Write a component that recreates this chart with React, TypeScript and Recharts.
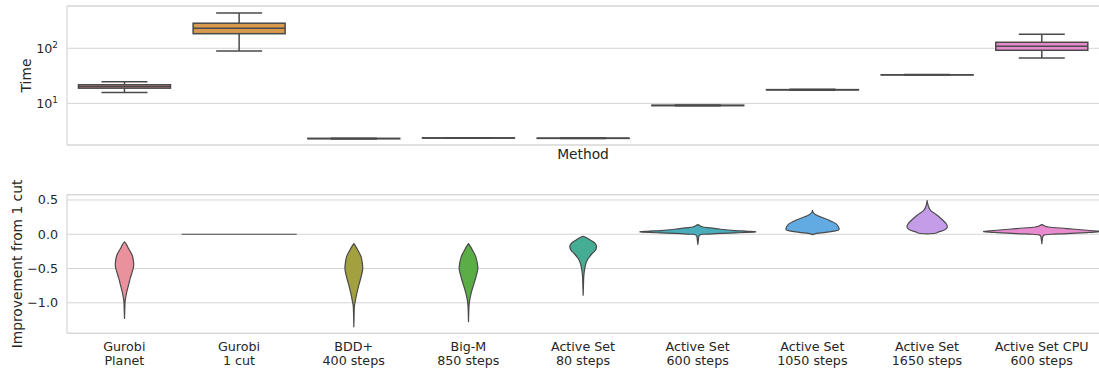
import React from 'react';
import { ComposedChart, Bar, XAxis, YAxis, CartesianGrid, ReferenceLine, Label } from 'recharts';

// methods (two-line tick labels)
const methodNames = ['Gurobi', 'Gurobi', 'BDD+', 'Big-M', 'Active Set', 'Active Set', 'Active Set', 'Active Set', 'Active Set CPU'];
const methodSteps = ['Planet', '1 cut', '400 steps', '850 steps', '80 steps', '600 steps', '1050 steps', '1650 steps', '600 steps'];

// Time (seconds, log scale) - box plot statistics
const timeMin = [15.8, 89, 2.27, 2.33, 2.3, 9.05, 17.4, 32.6, 66.7];
const timeQ1 = [18.9, 184, 2.29, 2.35, 2.32, 9.15, 17.6, 32.9, 92];
const timeMed = [20.2, 231, 2.3, 2.36, 2.33, 9.2, 17.7, 33.0, 108.7];
const timeQ3 = [21.8, 285, 2.31, 2.37, 2.34, 9.25, 17.8, 33.1, 128.5];
const timeMax = [24.7, 438, 2.33, 2.39, 2.36, 9.35, 18.0, 33.4, 180];

// Improvement from 1 cut - violin outlines as [value, relative density]
const kdePlanet = [[-0.112, 0], [-0.15, 0.035], [-0.208, 0.07], [-0.306, 0.134], [-0.403, 0.157], [-0.476, 0.157], [-0.549, 0.134], [-0.645, 0.099], [-0.742, 0.07], [-0.84, 0.04], [-0.913, 0.023], [-0.985, 0.01], [-1.1, 0.005], [-1.227, 0]];
const kdeOneCut = [[0, 1]];
const kdeBdd = [[-0.136, 0], [-0.18, 0.035], [-0.233, 0.07], [-0.33, 0.127], [-0.451, 0.152], [-0.524, 0.152], [-0.62, 0.127], [-0.742, 0.087], [-0.864, 0.052], [-0.985, 0.023], [-1.058, 0.009], [-1.2, 0.004], [-1.35, 0]];
const kdeBigM = [[-0.136, 0], [-0.18, 0.035], [-0.233, 0.07], [-0.33, 0.127], [-0.476, 0.162], [-0.549, 0.152], [-0.645, 0.122], [-0.742, 0.087], [-0.84, 0.052], [-0.936, 0.026], [-1.03, 0.01], [-1.15, 0.004], [-1.276, 0]];
const kdeAs80 = [[-0.029, 0], [-0.05, 0.06], [-0.087, 0.127], [-0.12, 0.19], [-0.16, 0.227], [-0.208, 0.227], [-0.245, 0.2], [-0.281, 0.157], [-0.354, 0.087], [-0.427, 0.047], [-0.524, 0.023], [-0.62, 0.01], [-0.75, 0.005], [-0.888, 0]];
const kdeAs600 = [[0.141, 0], [0.12, 0.044], [0.106, 0.087], [0.092, 0.227], [0.073, 0.4], [0.054, 0.645], [0.044, 0.87], [0.034, 1.0], [0.019, 0.645], [0.008, 0.3], [0.0, 0.1], [-0.01, 0.035], [-0.04, 0.015], [-0.1, 0.007], [-0.15, 0]];
const kdeAs1050 = [[0.349, 0], [0.32, 0.01], [0.301, 0.03], [0.27, 0.09], [0.252, 0.145], [0.204, 0.29], [0.155, 0.406], [0.106, 0.453], [0.068, 0.46], [0.05, 0.4], [0.034, 0.29], [0.02, 0.14], [0.01, 0.05], [-0.005, 0]];
const kdeAs1650 = [[0.49, 0], [0.422, 0.017], [0.349, 0.058], [0.277, 0.174], [0.204, 0.274], [0.146, 0.337], [0.097, 0.349], [0.058, 0.291], [0.034, 0.2], [0.015, 0.14], [0.005, 0]];
const kdeCpu = [[0.141, 0], [0.12, 0.05], [0.106, 0.116], [0.083, 0.436], [0.058, 0.785], [0.044, 1.0], [0.035, 0.97], [0.025, 0.785], [0.01, 0.436], [0.0, 0.174], [-0.01, 0.05], [-0.03, 0.02], [-0.08, 0.008], [-0.136, 0]];
const improvementKde = [kdePlanet, kdeOneCut, kdeBdd, kdeBigM, kdeAs80, kdeAs600, kdeAs1050, kdeAs1650, kdeCpu];

const timeTicks = [10, 100];
const timeDomain = [1.76, 585];
const gainTicks = [-1, -0.5, 0, 0.5];
const gainDomain = [-1.445, 0.577];

const COLORS = ['#ea919e', '#d89a4c', '#a3a03f', '#5aae45', '#46ad95', '#49adbb', '#61abe2', '#c49ce8', '#e88bcf'];
const GRID = '#d5d5d5';
const TEXT = '#262626';
const EDGE = '#4a4a4a';
const FONT = '"DejaVu Sans", sans-serif';
const TICK_SIZE = 12.7;
const LABEL_SIZE = 13.8;

const timeRows = methodNames.map((n, i) => ({
  method: `${n}\n${methodSteps[i]}`,
  min: timeMin[i], q1: timeQ1[i], med: timeMed[i], q3: timeQ3[i], max: timeMax[i],
  color: COLORS[i],
}));

const gainRows = methodNames.map((n, i) => {
  const kde = improvementKde[i];
  const vals = kde.map((p) => p[0]);
  return { method: `${n}\n${methodSteps[i]}`, lo: Math.min(...vals), hi: Math.max(...vals), kde, color: COLORS[i] };
});

const BoxShape = (props: any) => {
  const { x, y, width, height, payload } = props;
  const top = height < 0 ? y + height : y;
  const h = Math.abs(height);
  const lmax = Math.log10(payload.max);
  const lmin = Math.log10(payload.min);
  const py = (v: number) => top + (h * (lmax - Math.log10(v))) / (lmax - lmin);
  const cx = x + width / 2;
  const cap = width / 4;
  return (
    <g>
      <line x1={cx} x2={cx} y1={py(payload.max)} y2={py(payload.q3)} stroke={EDGE} strokeWidth={1.5} />
      <line x1={cx} x2={cx} y1={py(payload.q1)} y2={py(payload.min)} stroke={EDGE} strokeWidth={1.5} />
      <line x1={cx - cap} x2={cx + cap} y1={py(payload.max)} y2={py(payload.max)} stroke={EDGE} strokeWidth={1.5} />
      <line x1={cx - cap} x2={cx + cap} y1={py(payload.min)} y2={py(payload.min)} stroke={EDGE} strokeWidth={1.5} />
      <rect x={x} y={py(payload.q3)} width={width} height={py(payload.q1) - py(payload.q3)} fill={payload.color} stroke={EDGE} strokeWidth={1.5} />
      <line x1={x} x2={x + width} y1={py(payload.med)} y2={py(payload.med)} stroke={EDGE} strokeWidth={1.5} />
    </g>
  );
};

// smooth closed outline, pointed at the tips
const outlinePath = (pts: number[][], tips: number[]) => {
  const n = pts.length;
  const tan = pts.map((p, i) => {
    if (tips.includes(i)) return [0, 0];
    const a = pts[(i - 1 + n) % n];
    const b = pts[(i + 1) % n];
    return [(b[0] - a[0]) / 2, (b[1] - a[1]) / 2];
  });
  let d = `M${pts[0][0]},${pts[0][1]}`;
  for (let i = 0; i < n; i++) {
    const j = (i + 1) % n;
    const p = pts[i];
    const q = pts[j];
    d += `C${p[0] + tan[i][0] / 3},${p[1] + tan[i][1] / 3} ${q[0] - tan[j][0] / 3},${q[1] - tan[j][1] / 3} ${q[0]},${q[1]}`;
  }
  return d + 'Z';
};

const ViolinShape = (props: any) => {
  const { x, y, width, height, payload } = props;
  const top = height < 0 ? y + height : y;
  const h = Math.abs(height);
  if (!(payload.hi > payload.lo)) {
    return <line x1={x} x2={x + width} y1={top} y2={top} stroke={EDGE} strokeWidth={1.2} />;
  }
  const cx = x + width / 2;
  const half = width / 2;
  const py = (v: number) => top + (h * (payload.hi - v)) / (payload.hi - payload.lo);
  const kde: number[][] = payload.kde;
  const right = kde.map(([v, d]) => [cx + d * half, py(v)]);
  const left = kde.slice(1, -1).reverse().map(([v, d]) => [cx - d * half, py(v)]);
  const pts = [...right, ...left];
  return <path d={outlinePath(pts, [0, right.length - 1])} fill={payload.color} stroke={EDGE} strokeWidth={1.2} strokeLinejoin="round" />;
};

const PowTick = ({ x, y, payload }: any) => {
  const exp = Math.round(Math.log10(payload.value));
  return (
    <text x={x} y={y} textAnchor="end" fill={TEXT} fontSize={TICK_SIZE} fontFamily={FONT}>
      <tspan dy={5}>10</tspan>
      <tspan dy={-5} fontSize={8.9}>{exp}</tspan>
    </text>
  );
};

const MethodTick = ({ x, y, payload }: any) => {
  const [a, b] = String(payload.value).split('\n');
  return (
    <text x={x} y={y} textAnchor="middle" fill={TEXT} fontSize={TICK_SIZE} fontFamily={FONT}>
      <tspan x={x} dy={17.4}>{a}</tspan>
      <tspan x={x} dy={14.3}>{b}</tspan>
    </text>
  );
};

const yTitle = (title: string, baseX: number) => (props: any) => {
  const vb = props.viewBox || {};
  const cy = (vb.y ?? 0) + (vb.height ?? 0) / 2;
  return (
    <text x={baseX} y={cy} transform={`rotate(-90 ${baseX} ${cy})`} textAnchor="middle" fill={TEXT} fontSize={LABEL_SIZE} fontFamily={FONT}>
      {title}
    </text>
  );
};

const methodTitle = (props: any) => {
  const vb = props.viewBox || {};
  const cx = (vb.x ?? 0) + (vb.width ?? 0) / 2;
  return (
    <text x={cx} y={(vb.y ?? 0) + 14.3} textAnchor="middle" fill={TEXT} fontSize={LABEL_SIZE} fontFamily={FONT}>
      Method
    </text>
  );
};

const fmtGain = (v: number) => (v < 0 ? '\u2212' : '') + Math.abs(v).toFixed(1);

export default function App() {
  return (
    <div style={{ position: 'absolute', left: 0, top: 0, width: 1099, height: 369, background: '#fff' }}>
      <div style={{ position: 'absolute', left: 0, top: 0 }}>
        <ComposedChart width={1099} height={170} data={timeRows} margin={{ top: 6, right: 0, bottom: 0, left: 0 }} barCategoryGap="10%">
          <CartesianGrid vertical={false} stroke={GRID} strokeWidth={1} />
          <XAxis dataKey="method" type="category" tick={false} tickLine={false} height={25} axisLine={{ stroke: GRID, strokeWidth: 1.2 }}>
            <Label content={methodTitle} />
          </XAxis>
          <YAxis
            type="number"
            scale="log"
            domain={timeDomain}
            ticks={timeTicks}
            allowDataOverflow
            width={67}
            tickLine={false}
            tickSize={0}
            tickMargin={9}
            tick={<PowTick />}
            axisLine={{ stroke: GRID, strokeWidth: 1.2 }}
          >
            <Label content={yTitle('Time', 31)} />
          </YAxis>
          <ReferenceLine y={timeDomain[1]} stroke={GRID} strokeWidth={1.2} />
          <Bar dataKey={(r: any) => [r.min, r.max]} shape={<BoxShape />} isAnimationActive={false} />
        </ComposedChart>
      </div>
      <div style={{ position: 'absolute', left: 0, top: 170 }}>
        <ComposedChart width={1099} height={199} data={gainRows} margin={{ top: 24.7, right: 0, bottom: 0, left: 0 }} barCategoryGap={0}>
          <CartesianGrid vertical={false} stroke={GRID} strokeWidth={1} />
          <XAxis dataKey="method" type="category" interval={0} tick={<MethodTick />} tickLine={false} tickSize={0} tickMargin={0} height={35.7} axisLine={{ stroke: GRID, strokeWidth: 1.2 }} />
          <YAxis
            type="number"
            domain={gainDomain}
            ticks={gainTicks}
            allowDataOverflow
            width={67}
            tickLine={false}
            tickSize={0}
            tickMargin={9}
            tickFormatter={fmtGain}
            tick={{ fill: TEXT, fontSize: TICK_SIZE, fontFamily: FONT }}
            axisLine={{ stroke: GRID, strokeWidth: 1.2 }}
          >
            <Label content={yTitle('Improvement from 1 cut', 22)} />
          </YAxis>
          <ReferenceLine y={gainDomain[1]} stroke={GRID} strokeWidth={1.2} />
          <Bar dataKey={(r: any) => [r.lo, r.hi]} shape={<ViolinShape />} isAnimationActive={false} />
        </ComposedChart>
      </div>
    </div>
  );
}
